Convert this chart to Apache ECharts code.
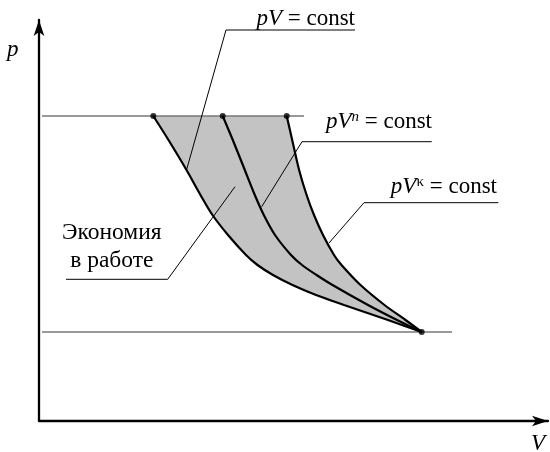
<!DOCTYPE html>
<html>
<head>
<meta charset="utf-8">
<script src="https://cdn.jsdelivr.net/npm/echarts@6/dist/echarts.min.js"></script>
<style>
  html, body { margin: 0; padding: 0; background: #fff; }
  #chart { width: 550px; height: 452px; }
</style>
</head>
<body>
<div id="chart"></div>
<script>
// p-V diagram, values in arbitrary units
const isotherm = [[11.43, 30.5], [12.95, 28.1], [14.75, 25.1], [16.15, 22.6], [17.35, 20.6], [18.9, 18.6],
  [20.7, 16.6], [21.85, 15.6], [23.4, 14.6], [25.35, 13.6], [27.7, 12.6], [30.5, 11.6], [34.9, 10.1], [38.27, 8.9]]
const polytrope = [[18.37, 30.5], [19.38, 28.1], [20.58, 25.1], [21.58, 22.6], [22.48, 20.6], [23.6, 18.6],
  [25.2, 16.6], [26.3, 15.6], [27.75, 14.6], [29.35, 13.6], [32.9, 11.6], [35.8, 10.1], [38.27, 8.9]]
const adiabat = [[24.77, 30.5], [25.32, 28.1], [26.01, 25.1], [26.76, 22.6], [27.5, 20.6], [28.4, 18.6],
  [29.5, 16.6], [30.25, 15.6], [32.15, 13.6], [34.55, 11.6], [36.65, 10.1], [38.27, 8.9]]
const topLine = [[0.3, 30.5], [26.5, 30.5]]
const bottomLine = [[0.3, 8.9], [41.3, 8.9]]
// leader lines: underline end, corner, point on the curve
const leaderIso = [[31.6, 39.1], [18.7, 39.1], [14.75, 25.1]]
const leaderPoly = [[39.27, 27.93], [26.3, 27.93], [22.27, 21.43]]
const leaderAdia = [[45.93, 21.83], [32.5, 21.83], [29.0, 17.8]]
const leaderGain = [[2.7, 14.17], [12.87, 14.17], [19.6, 23.43]]

const chart = echarts.init(document.getElementById('chart'))
const serif = 'Liberation Serif'

// shaded area: isotherm down, adiabat back up
const shade = isotherm.concat(adiabat.slice().reverse())
const dots = [isotherm[0], polytrope[0], adiabat[0], isotherm[isotherm.length - 1]]

function lineSeries(data, width, color, z, smooth) {
  return {
    type: 'line',
    data: data,
    smooth: smooth ? 0.3 : false,
    showSymbol: false,
    silent: true,
    z: z,
    lineStyle: { color: color, width: width }
  }
}

const formula = {
  i: { fontFamily: serif, fontSize: 23, fontStyle: 'italic', color: '#000', verticalAlign: 'bottom' },
  s: { fontFamily: serif, fontSize: 15, fontStyle: 'italic', color: '#000', verticalAlign: 'top' },
  k: { fontFamily: serif, fontSize: 15, color: '#000', verticalAlign: 'top' },
  r: { fontFamily: serif, fontSize: 23, color: '#000', verticalAlign: 'bottom' }
}

const option = {
  animation: false,
  grid: { left: 39, right: 2, top: 20, bottom: 31 },
  xAxis: {
    type: 'value', min: 0, max: 50.9,
    splitLine: { show: false }, axisTick: { show: false }, axisLabel: { show: false },
    axisLine: { show: true, symbol: ['none', 'arrow'], symbolSize: [8, 16], lineStyle: { color: '#000', width: 2.3 } }
  },
  yAxis: {
    type: 'value', min: 0, max: 40.1,
    splitLine: { show: false }, axisTick: { show: false }, axisLabel: { show: false },
    axisLine: { show: true, symbol: ['none', 'arrow'], symbolSize: [8, 16], lineStyle: { color: '#000', width: 2.3 } }
  },
  series: [
    {
      type: 'custom',
      silent: true,
      z: 1,
      data: [0],
      renderItem: function (params, api) {
        return {
          type: 'polygon',
          shape: { points: shade.map(p => api.coord(p)) },
          style: { fill: '#c3c3c3', stroke: 'none' }
        }
      }
    },
    lineSeries(topLine, 1.3, '#777', 2),
    lineSeries(bottomLine, 1.3, '#777', 2),
    lineSeries(leaderIso, 1, '#000', 3),
    lineSeries(leaderPoly, 1, '#000', 3),
    lineSeries(leaderAdia, 1, '#000', 3),
    lineSeries(leaderGain, 1, '#000', 3),
    lineSeries(isotherm, 2.2, '#000', 4, true),
    lineSeries(polytrope, 2.2, '#000', 4, true),
    lineSeries(adiabat, 2.2, '#000', 4, true),
    {
      type: 'scatter',
      data: dots,
      symbolSize: 6,
      silent: true,
      z: 5,
      itemStyle: { color: '#000' }
    }
  ],
  graphic: [
    { type: 'text', left: 7, top: 38, style: { text: 'p', font: 'italic 23px "Liberation Serif"', fill: '#000' } },
    { type: 'text', left: 531, top: 432, style: { text: 'V', font: 'italic 23px "Liberation Serif"', fill: '#000' } },
    { type: 'text', right: 195, top: 7, style: { text: '{i|pV}{r| = const}', rich: formula } },
    { type: 'text', right: 118, top: 110, style: { text: '{i|pV}{s|n}{r| = const}', rich: formula } },
    { type: 'text', right: 53, top: 175, style: { text: '{i|pV}{k|κ}{r| = const}', rich: formula } },
    {
      type: 'text', left: 62, top: 219,
      style: { text: 'Экономия\nв работе', fontFamily: serif, fontSize: 23.5, fill: '#000', textAlign: 'center', lineHeight: 28 }
    }
  ]
}

chart.setOption(option)
</script>
</body>
</html>
